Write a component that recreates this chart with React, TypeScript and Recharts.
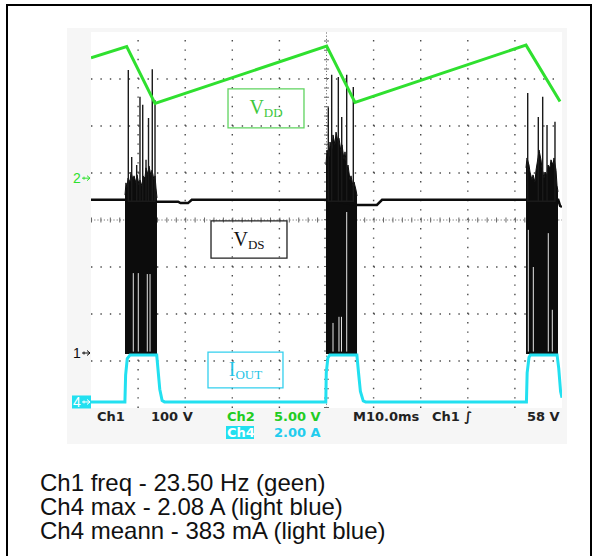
import React from 'react';
import { ComposedChart, XAxis, YAxis, Line, Area, ReferenceLine, ReferenceArea } from 'recharts';

// Horizontal axis: time in ms (10 ms / division, 10 divisions)
// Vertical axis: screen divisions (0 = bottom, 8 = top)
const majorX = [10, 20, 30, 40, 60, 70, 80, 90];
const centerX = 50;
const majorY = [1, 2, 3, 5, 6, 7];
const centerY = 4;
const minorX = [0, 2, 4, 6, 8, 10, 12, 14, 16, 18, 20, 22, 24, 26, 28, 30, 32, 34, 36, 38, 40, 42, 44, 46, 48, 50, 52, 54, 56, 58, 60, 62, 64, 66, 68, 70, 72, 74, 76, 78, 80, 82, 84, 86, 88, 90, 92, 94, 96, 98, 100];
const minorY = [0, 0.2, 0.4, 0.6, 0.8, 1, 1.2, 1.4, 1.6, 1.8, 2, 2.2, 2.4, 2.6, 2.8, 3, 3.2, 3.4, 3.6, 3.8, 4, 4.2, 4.4, 4.6, 4.8, 5, 5.2, 5.4, 5.6, 5.8, 6, 6.2, 6.4, 6.6, 6.8, 7, 7.2, 7.4, 7.6, 7.8, 8];

// Ch2 - VDD (green sawtooth)
const vddT = [0, 7.58, 13.59, 50.04, 56.05, 92.36, 99.58];
const vddV = [7.45, 7.69, 6.48, 7.70, 6.50, 7.72, 6.52];

// Ch1 - VDS baseline (black)
const vdsT = [0, 7.2, 14.0, 18.5, 19.0, 20.6, 21.4, 49.9, 56.5, 60.7, 61.8, 92.4, 99.2, 99.6, 100];
const vdsV = [4.43, 4.43, 4.39, 4.39, 4.36, 4.36, 4.43, 4.43, 4.32, 4.32, 4.43, 4.43, 4.43, 4.30, 4.28];
const vdsFloor = 1.15;

// Ch1 switching bursts: dense envelope tops
const burst1T = [7.22, 7.43, 7.64, 7.86, 8.28, 8.49, 8.92, 9.13, 9.55, 9.77, 10.19, 10.40, 10.83, 11.04, 11.46, 11.68, 12.10, 12.31, 12.74, 12.95, 13.38, 13.59, 13.80, 14.01];
const burst1Top = [4.53, 4.79, 4.68, 4.89, 4.81, 5.02, 4.85, 4.94, 4.79, 4.96, 4.74, 4.85, 4.72, 4.94, 4.89, 5.11, 4.96, 5.15, 4.94, 5.06, 4.85, 4.94, 4.68, 4.47];
const burst2T = [49.89, 50.11, 50.53, 50.74, 51.17, 51.38, 51.80, 52.02, 52.44, 52.65, 53.08, 53.29, 53.72, 53.93, 54.35, 54.56, 54.99, 55.20, 55.63, 55.84, 56.26, 56.48];
const burst2Top = [5.17, 5.49, 5.32, 5.66, 5.49, 5.81, 5.60, 5.87, 5.66, 5.74, 5.45, 5.60, 5.28, 5.45, 5.06, 5.17, 4.85, 4.94, 4.72, 4.81, 4.64, 4.51];
const burst3T = [92.36, 92.57, 92.99, 93.21, 93.63, 93.84, 94.27, 94.48, 94.90, 95.12, 95.54, 95.75, 96.18, 96.39, 96.82, 97.03, 97.45, 97.66, 98.09, 98.30, 98.73, 98.94, 99.15];
const burst3Top = [5.11, 5.32, 5.17, 5.02, 4.85, 4.96, 4.81, 5.06, 5.32, 5.49, 5.28, 5.11, 4.89, 5.02, 4.96, 5.17, 5.11, 5.28, 5.17, 5.32, 5.06, 4.74, 4.60];

// tall ringing spikes
const spike1T = [7.92, 8.64, 9.70, 10.40, 10.98, 11.68, 12.21, 13.01, 13.59];
const spike1V = [7.19, 5.34, 5.17, 6.62, 6.45, 5.28, 6.17, 7.21, 6.55];
const spike2T = [50.38, 51.10, 52.51, 53.23, 54.29, 55.69];
const spike2V = [6.40, 7.09, 7.04, 6.19, 7.09, 6.83];
const spike3T = [92.72, 94.97, 95.90, 96.82, 98.51];
const spike3V = [6.70, 6.19, 6.62, 6.02, 6.09];
const spikeBase = 4.4;

// white gaps inside bursts
const gapT = [8.98, 10.04, 11.95, 12.53, 51.38, 52.65, 53.18, 54.29, 92.85, 93.91, 97.09, 97.94];
const gapTop = [2.87, 2.87, 2.85, 2.85, 1.81, 1.94, 1.94, 4.17, 3.79, 3.00, 3.72, 2.09];
const gapBottom = 1.2;

// Ch4 - IOUT (cyan)
const ioutT = [0, 7.2, 7.35, 7.7, 8.3, 13.95, 14.2, 14.6, 15.1, 15.6, 49.85, 49.95, 50.3, 50.7, 56.45, 56.8, 57.2, 57.8, 58.3, 92.45, 92.6, 93.0, 93.3, 98.95, 99.3, 99.7, 100];
const ioutV = [0.13, 0.13, 0.7, 1.05, 1.13, 1.13, 0.85, 0.4, 0.16, 0.13, 0.13, 0.75, 1.07, 1.13, 1.13, 0.75, 0.35, 0.15, 0.13, 0.13, 0.75, 1.08, 1.13, 1.13, 0.85, 0.35, 0.22];

// channel ground markers
const markerLevels = [4.89, 1.17, 0.128];
const markerNames = ['2', '1', '4'];

const statusRow1 = ['Ch1', '100 V', 'Ch2', '5.00 V', 'M10.0ms', 'Ch1 \u222B', '58 V'];
const statusRow2 = ['Ch4', '2.00 A'];
const captions = ['Ch1 freq - 23.50 Hz (geen)', 'Ch4 max - 2.08 A (light blue)', 'Ch4 meann - 383 mA (light blue)'];

const GREEN = '#2fe02f';
const CYAN = '#22e0f0';
const BLACK = '#0c0c0c';

const pts = (ts: number[], vs: number[]) => ts.map((t, i) => ({ t, v: vs[i] }));
const spikes = (ts: number[], vs: number[], base: number) =>
  ts.flatMap((t, i) => [{ t, v: base }, { t, v: vs[i] }, { t, v: base }]);

const SubLabel = (p: any) => {
  const vb = p.viewBox || {};
  const x = Math.min(vb.x, vb.x + vb.width);
  const y = Math.min(vb.y, vb.y + vb.height);
  const cx = x + Math.abs(vb.width) / 2;
  const cy = y + Math.abs(vb.height) / 2;
  return (
    <text x={cx} y={cy + 6} textAnchor="middle" fontFamily="Liberation Serif" fill={p.color}>
      <tspan fontSize={20}>{p.main}</tspan>
      <tspan fontSize={13} dy={3}>{p.sub}</tspan>
    </text>
  );
};

const Marker = (p: any) => {
  const vb = p.viewBox || {};
  const left = Math.min(vb.x, vb.x + (vb.width || 0));
  const y = vb.y + (vb.height || 0) / 2;
  const boxed = p.boxed;
  const col = boxed ? '#ffffff' : p.color;
  return (
    <g>
      {boxed && <rect x={left - 19} y={y - 6.5} width={19} height={13} fill={CYAN} />}
      <text x={left - 18} y={y + 5} fontFamily="Liberation Sans" fontSize={14} fill={col}>{p.name}</text>
      <line x1={left - 9} x2={left - 1} y1={y} y2={y} stroke={col} strokeWidth={1} />
      <path d={`M${left - 4},${y - 2.5} L${left - 1},${y} L${left - 4},${y + 2.5}`} fill="none" stroke={col} strokeWidth={1} />
      <line x1={left - 7} x2={left - 7} y1={y - 1.5} y2={y + 1.5} stroke={col} strokeWidth={1} />
    </g>
  );
};

const markerColors = [GREEN, BLACK, CYAN];

export default function App() {
  const axisStroke = '#8a8a8a';
  const burstProps = { dataKey: 'v', type: 'linear' as const, baseValue: vdsFloor, stroke: BLACK, strokeWidth: 1, fill: BLACK, fillOpacity: 1, dot: false, activeDot: false, isAnimationActive: false };
  const gridZ: any = { zIndex: -50 };
  return (
    <div style={{ position: 'absolute', left: 0, top: 0, width: 593, height: 556, overflow: 'hidden', background: '#fff' }}>
      <div style={{ position: 'absolute', left: 67, top: 28, width: 500, height: 416, background: '#f6f6f6' }} />
      <div style={{ position: 'absolute', left: 91, top: 32, width: 471, height: 376, background: '#fff' }} />
      <div style={{ position: 'absolute', left: 6, top: 4, width: 586, height: 620, border: '2px solid #000', boxSizing: 'border-box' }} />
      <div style={{ position: 'absolute', left: 0, top: 0 }}>
        <ComposedChart width={593} height={556} margin={{ top: 32, right: 31, bottom: 148, left: 91 }}>
          <XAxis xAxisId={0} type="number" dataKey="t" domain={[0, 100]} allowDataOverflow ticks={minorX} tick={false} tickSize={3} mirror height={0} axisLine={{ stroke: axisStroke }} tickLine={{ stroke: axisStroke }} />
          <XAxis xAxisId="top" orientation="top" type="number" dataKey="t" domain={[0, 100]} allowDataOverflow ticks={minorX} tick={false} tickSize={3} mirror height={0} axisLine={{ stroke: axisStroke }} tickLine={{ stroke: axisStroke }} />
          <YAxis yAxisId={0} type="number" domain={[0, 8]} allowDataOverflow ticks={minorY} tick={false} tickSize={3} mirror width={0} axisLine={{ stroke: axisStroke }} tickLine={{ stroke: axisStroke }} />
          <YAxis yAxisId="right" orientation="right" type="number" domain={[0, 8]} allowDataOverflow ticks={minorY} tick={false} tickSize={3} mirror width={0} axisLine={{ stroke: axisStroke }} tickLine={{ stroke: axisStroke }} />

          {majorX.map((x) => (
            <ReferenceLine key={'gx' + x} {...gridZ} x={x} stroke="#4a4a4a" strokeWidth={1.4} strokeDasharray="1.4 8" />
          ))}
          {majorY.map((y) => (
            <ReferenceLine key={'gy' + y} {...gridZ} y={y} stroke="#4a4a4a" strokeWidth={1.4} strokeDasharray="1.4 8.02" />
          ))}
          <ReferenceLine {...gridZ} x={centerX} stroke="#777" strokeWidth={1} strokeDasharray="1.2 2" />
          <ReferenceLine {...gridZ} x={centerX} stroke="#666" strokeWidth={5} strokeDasharray="1 8.4" />
          <ReferenceLine {...gridZ} y={centerY} stroke="#777" strokeWidth={1} strokeDasharray="1.2 2" />
          <ReferenceLine {...gridZ} y={centerY} stroke="#666" strokeWidth={5} strokeDasharray="1 8.42" />

          <ReferenceArea x1={29.09} x2={45.22} y1={5.96} y2={6.79} fill="none" stroke="#5fd35f" strokeWidth={1.3} ifOverflow="visible"
            label={(p: any) => <SubLabel {...p} main="V" sub="DD" color="#3cc83c" />} />
          <ReferenceArea x1={25.48} x2={41.61} y1={3.19} y2={3.98} fill="#fff" fillOpacity={0} stroke="#222" strokeWidth={1.3} ifOverflow="visible"
            label={(p: any) => <SubLabel {...p} main="V" sub="DS" color="#111" />} />
          <ReferenceArea x1={24.84} x2={40.76} y1={0.43} y2={1.19} fill="none" stroke="#33d0ee" strokeWidth={1.3} ifOverflow="visible"
            label={(p: any) => <SubLabel {...p} main="I" sub="OUT" color="#22c4e6" />} />

          <Line data={pts(vdsT, vdsV)} dataKey="v" type="linear" stroke={BLACK} strokeWidth={2.5} dot={false} activeDot={false} isAnimationActive={false} />
          <Area data={pts(burst1T, burst1Top)} {...burstProps} />
          <Area data={pts(burst2T, burst2Top)} {...burstProps} />
          <Area data={pts(burst3T, burst3Top)} {...burstProps} />
          <Line data={spikes(spike1T, spike1V, spikeBase)} dataKey="v" type="linear" stroke="#1a1a1a" strokeWidth={1.4} dot={false} activeDot={false} isAnimationActive={false} />
          <Line data={spikes(spike2T, spike2V, spikeBase)} dataKey="v" type="linear" stroke="#1a1a1a" strokeWidth={1.4} dot={false} activeDot={false} isAnimationActive={false} />
          <Line data={spikes(spike3T, spike3V, spikeBase)} dataKey="v" type="linear" stroke="#1a1a1a" strokeWidth={1.4} dot={false} activeDot={false} isAnimationActive={false} />
          {gapT.map((t, i) => (
            <Line key={'gap' + i} data={[{ t, v: gapBottom }, { t, v: gapTop[i] }]} dataKey="v" type="linear" stroke="#fff" strokeWidth={0.9} dot={false} activeDot={false} isAnimationActive={false} />
          ))}
          <Line data={pts(vddT, vddV)} dataKey="v" type="linear" stroke={GREEN} strokeWidth={3} dot={false} activeDot={false} isAnimationActive={false} />
          <Line data={pts(ioutT, ioutV)} dataKey="v" type="linear" stroke={CYAN} strokeWidth={3} dot={false} activeDot={false} isAnimationActive={false} />

          {markerLevels.map((lv, i) => (
            <ReferenceLine key={'mk' + i} y={lv} stroke="none" ifOverflow="visible"
              label={(p: any) => <Marker {...p} name={markerNames[i]} color={markerColors[i]} boxed={i === 2} />} />
          ))}
        </ComposedChart>
      </div>
      <svg width={593} height={556} style={{ position: 'absolute', left: 0, top: 0, pointerEvents: 'none' }}>
        <g fontFamily="DejaVu Sans" fontWeight="bold" fontSize={13}>
          <text x={97} y={421} fill="#222">{statusRow1[0]}</text>
          <text x={151} y={421} fill="#222">{statusRow1[1]}</text>
          <text x={227} y={421} fill="#22cc22">{statusRow1[2]}</text>
          <text x={274} y={421} fill="#22cc22">{statusRow1[3]}</text>
          <text x={353} y={421} fill="#222">{statusRow1[4]}</text>
          <text x={432} y={421} fill="#222">{statusRow1[5]}</text>
          <text x={527} y={421} fill="#222">{statusRow1[6]}</text>
          <rect x={226} y={426} width={28} height={13} fill={CYAN} />
          <text x={227} y={437} fill="#fff">{statusRow2[0]}</text>
          <text x={274} y={437} fill="#22ccee">{statusRow2[1]}</text>
        </g>
        <g fontFamily="Liberation Sans" fontSize={24} fill="#111">
          <text x={40} y={491}>{captions[0]}</text>
          <text x={40} y={515}>{captions[1]}</text>
          <text x={40} y={539}>{captions[2]}</text>
        </g>
      </svg>
    </div>
  );
}
